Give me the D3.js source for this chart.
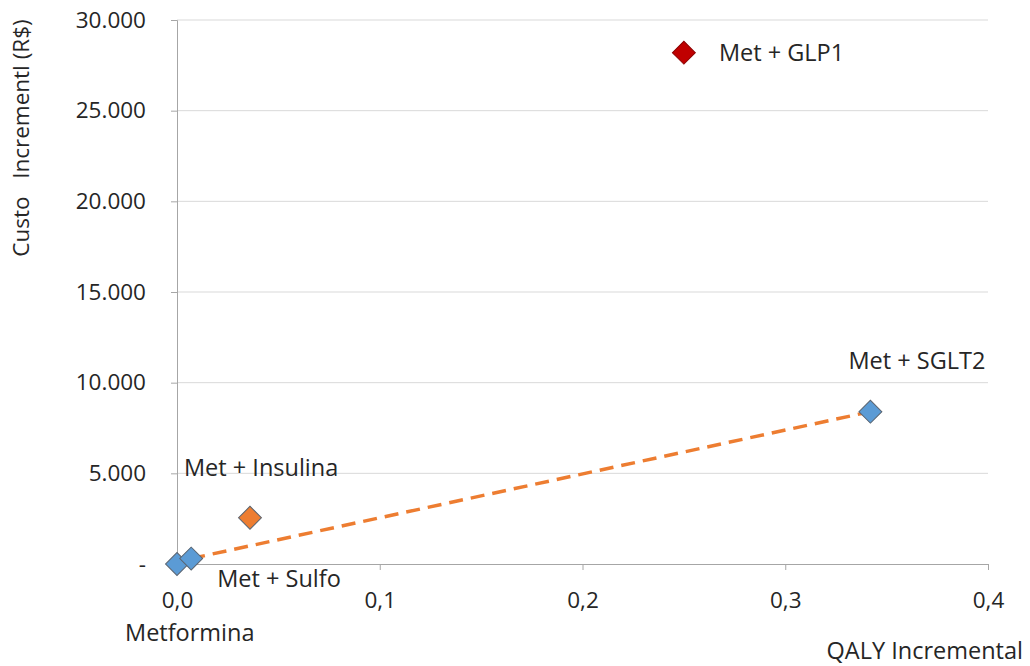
<!DOCTYPE html>
<html>
<head>
<meta charset="utf-8">
<script src="https://cdn.jsdelivr.net/npm/d3@7"></script>
<style>
  html, body { margin: 0; padding: 0; background: #fff; }
  text { font-family: "Open Sans", "Noto Sans", sans-serif; fill: #262626; }
</style>
</head>
<body>
<svg id="chart" width="1030" height="666"></svg>
<script>
// Strategies: incremental QALY vs incremental cost
const strategies = ["Metformina", "Met + Sulfo", "Met + Insulina", "Met + SGLT2", "Met + GLP1"];
const qaly = [0.0, 0.007, 0.036, 0.342, 0.25];
const cost = [0, 300, 2550, 8400, 28200];
const markerColors = ["#5B9BD5", "#5B9BD5", "#ED7D31", "#5B9BD5", "#C00000"];

// Efficiency frontier (dashed segment)
const frontier = ["Met + Sulfo", "Met + SGLT2"];

const xTicks = [0, 0.1, 0.2, 0.3, 0.4];
const yTicks = [0, 5000, 10000, 15000, 20000, 25000, 30000];

const svg = d3.select("#chart");
const plotLeft = 177, plotRight = 988, plotTop = 20, plotBottom = 564;
const tickFont = 22.5, labelFont = 23.5;

const x = d3.scaleLinear().domain([0, 0.4]).range([plotLeft, plotRight]);
const y = d3.scaleLinear().domain([0, 30000]).range([plotBottom, plotTop]);

const fmtY = d => d === 0 ? "-" : d3.format(",")(d).replace(/,/g, ".");
const fmtX = d => d.toFixed(1).replace(".", ",");

// Horizontal gridlines
svg.append("g").selectAll("line").data(yTicks.filter(d => d > 0)).join("line")
  .attr("x1", plotLeft).attr("x2", plotRight)
  .attr("y1", d => y(d)).attr("y2", d => y(d))
  .attr("stroke", "#D9D9D9").attr("stroke-width", 1);

// Y axis
const yAxis = svg.append("g").attr("transform", `translate(${plotLeft},0)`)
  .call(d3.axisLeft(y).tickValues(yTicks).tickFormat(fmtY).tickSize(6).tickPadding(25));
yAxis.select(".domain").attr("stroke", "#A6A6A6");
yAxis.selectAll(".tick line").attr("stroke", "#A6A6A6");
yAxis.selectAll(".tick text").attr("font-size", tickFont).attr("fill", "#404040")
  .attr("font-family", "\"Open Sans\", sans-serif");

// X axis
const xAxis = svg.append("g").attr("transform", `translate(0,${plotBottom})`)
  .call(d3.axisBottom(x).tickValues(xTicks).tickFormat(fmtX).tickSize(6).tickPadding(22));
xAxis.select(".domain").attr("stroke", "#A6A6A6");
xAxis.selectAll(".tick line").attr("stroke", "#A6A6A6");
xAxis.selectAll(".tick text").attr("font-size", tickFont).attr("fill", "#404040")
  .attr("font-family", "\"Open Sans\", sans-serif");

// Axis titles
svg.append("text").attr("x", 1023).attr("y", 659).attr("text-anchor", "end")
  .attr("font-size", labelFont).attr("fill", "#404040").text("QALY Incremental");
svg.append("text").attr("transform", "translate(29,138) rotate(-90)")
  .attr("text-anchor", "middle").attr("font-size", 22.5).attr("fill", "#404040")
  .attr("xml:space", "preserve").text("Custo   Incrementl (R$)");

const points = strategies.map((s, i) => ({ name: s, q: qaly[i], c: cost[i], color: markerColors[i] }));

// Dashed frontier line
const fp = frontier.map(n => points.find(p => p.name === n));
svg.append("line")
  .attr("x1", x(fp[0].q)).attr("y1", y(fp[0].c))
  .attr("x2", x(fp[1].q)).attr("y2", y(fp[1].c))
  .attr("stroke", "#ED7D31").attr("stroke-width", 3.5)
  .attr("stroke-dasharray", "14,8");

// Diamond markers
const diamond = d3.symbol().type(d3.symbolSquare).size(262);
svg.append("g").selectAll("path").data(points).join("path")
  .attr("d", diamond)
  .attr("transform", d => `translate(${x(d.q)},${y(d.c)}) rotate(45)`)
  .attr("fill", d => d.color)
  .attr("stroke", d => d.name === "Met + GLP1" ? "#8B0000" : "#5A6470")
  .attr("stroke-width", 1);

// Data labels
const labels = [
  { name: "Metformina", dx: -52, dy: 77 },
  { name: "Met + Sulfo", dx: 26, dy: 28 },
  { name: "Met + Insulina", dx: -66, dy: -42 },
  { name: "Met + SGLT2", dx: -22, dy: -43 },
  { name: "Met + GLP1", dx: 35, dy: 8 }
];
svg.append("g").selectAll("text").data(labels).join("text")
  .attr("x", d => { const p = points.find(q => q.name === d.name); return x(p.q) + d.dx; })
  .attr("y", d => { const p = points.find(q => q.name === d.name); return y(p.c) + d.dy; })
  .attr("font-size", labelFont).attr("fill", "#262626")
  .text(d => d.name);
</script>
</body>
</html>
